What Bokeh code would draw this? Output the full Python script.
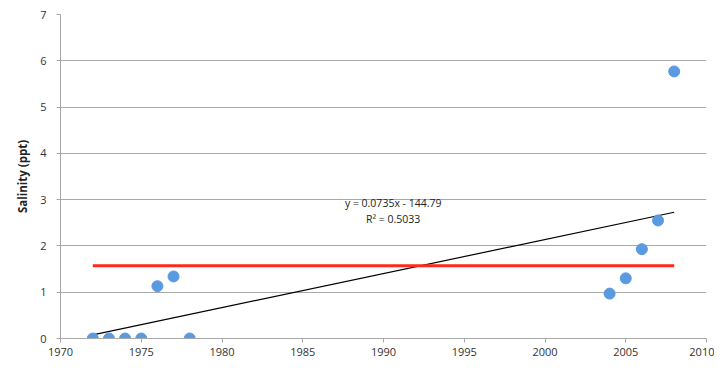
import numpy as np
from bokeh.plotting import figure
from bokeh.models import ColumnDataSource, Range1d, FixedTicker, Label
from bokeh.embed import file_html
from bokeh.resources import INLINE

years = [1972, 1973, 1974, 1975, 1976, 1977, 1978, 2004, 2005, 2006, 2007, 2008]
salinity = [0.0, 0.0, 0.0, 0.0, 1.13, 1.34, 0.0, 0.97, 1.30, 1.93, 2.55, 5.77]
threshold = 1.57
eq_text = "y = 0.0735x - 144.79"
r2_text = "R² = 0.5033"
y_title = "Salinity (ppt)"
x_ticks = [1970, 1975, 1980, 1985, 1990, 1995, 2000, 2005, 2010]
y_ticks = [0, 1, 2, 3, 4, 5, 6, 7]

FONT = "Open Sans"

p = figure(width=714, height=362, output_backend="svg", toolbar_location=None,
           x_range=Range1d(1970, 2010), y_range=Range1d(0, 7),
           min_border_left=60, min_border_right=8, min_border_top=14, min_border_bottom=24)
p.outline_line_color = None
p.background_fill_color = "white"
p.border_fill_color = "white"

# trend line from least squares fit
coef = np.polyfit(years, salinity, 1)
xs = [min(years), max(years)]
p.line(xs, [coef[0] * x + coef[1] for x in xs], line_color="black", line_width=1.2)

# threshold line
p.line(xs, [threshold, threshold], line_color="#ff2a1a", line_width=3)

src = ColumnDataSource(dict(x=years, y=salinity))
p.scatter("x", "y", source=src, size=11, fill_color="#5a9ae0", line_color="#5a9ae0")

lab1 = Label(x=1990.6, y=2.92, text=eq_text, text_align="center", text_baseline="middle",
             text_font=FONT, text_font_size="10.5px", text_color="#222222")
lab2 = Label(x=1990.6, y=2.59, text=r2_text, text_align="center", text_baseline="middle",
             text_font=FONT, text_font_size="10.5px", text_color="#222222")
p.add_layout(lab1)
p.add_layout(lab2)

p.xgrid.grid_line_color = None
p.ygrid.grid_line_color = "#a8a8a8"
p.ygrid.grid_line_width = 1.2

for ax in (p.xaxis[0], p.yaxis[0]):
    ax.axis_line_color = "#a8a8a8"
    ax.major_tick_line_color = "#a8a8a8"
    ax.major_tick_out = 4
    ax.major_tick_in = 0
    ax.minor_tick_line_color = None
    ax.major_label_text_font = FONT
    ax.major_label_text_font_size = "11px"
    ax.major_label_text_color = "#333333"

p.xaxis[0].ticker = FixedTicker(ticks=x_ticks)
p.yaxis[0].ticker = FixedTicker(ticks=y_ticks)
p.xaxis[0].major_label_standoff = 5
p.yaxis[0].major_label_standoff = 10
p.yaxis[0].axis_label = y_title
p.yaxis[0].axis_label_text_font = FONT
p.yaxis[0].axis_label_text_font_size = "11.5px"
p.yaxis[0].axis_label_text_font_style = "bold"
p.yaxis[0].axis_label_text_color = "#222222"
p.yaxis[0].axis_label_standoff = 7

open("out.html", "w").write(file_html(p, INLINE))
